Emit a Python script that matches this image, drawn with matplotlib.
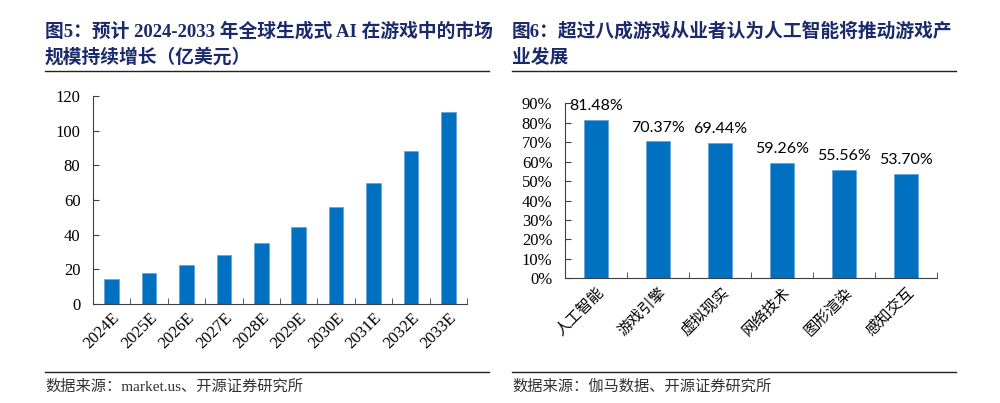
import numpy as np
import matplotlib
matplotlib.use('Agg')
import matplotlib.pyplot as plt
from matplotlib.lines import Line2D
from matplotlib.ticker import PercentFormatter, MultipleLocator

# data
years = ['2024E', '2025E', '2026E', '2027E', '2028E', '2029E', '2030E', '2031E', '2032E', '2033E']
market_size = [14.2, 17.9, 22.5, 28.3, 35.4, 44.4, 56.0, 70.0, 88.1, 110.8]

areas = ['人工智能', '游戏引擎', '虚拟现实', '网络技术', '图形渲染', '感知交互']
share = [81.48, 70.37, 69.44, 59.26, 55.56, 53.70]

title_left = '图5：预计 2024-2033 年全球生成式 AI 在游戏中的市场\n规模持续增长（亿美元）'
title_right = '图6：超过八成游戏从业者认为人工智能将推动游戏产\n业发展'
source_left = '数据来源：market.us、开源证券研究所'
source_right = '数据来源：伽马数据、开源证券研究所'

bar_color = '#0070C0'
title_color = '#1B2A6B'
serif = ['Liberation Serif', 'Noto Sans CJK SC']

plt.rcParams['font.family'] = serif

fig = plt.figure(figsize=(10, 4.03), dpi=100)


def style_axis(ax, n):
    # inward ticks at category boundaries, no tick marks at the labels
    ax.spines['top'].set_visible(False)
    ax.spines['right'].set_visible(False)
    ax.spines['left'].set_color('#404040')
    ax.spines['bottom'].set_color('#404040')
    ax.set_xlim(-0.5, n - 0.5)
    ax.set_xticks(np.arange(n))
    ax.set_xticks(np.arange(n + 1) - 0.5, minor=True)
    ax.tick_params(axis='x', which='major', length=0, pad=4)
    ax.tick_params(axis='x', which='minor', direction='in', length=4, color='#404040')
    ax.tick_params(axis='y', direction='in', length=4, pad=9, color='#404040', labelsize=12)


# left chart
ax1 = fig.add_axes([0.093, 0.2457, 0.374, 0.516])
x1 = np.arange(len(years))
ax1.bar(x1, market_size, width=0.39, color=bar_color, edgecolor='#5B9BD5', linewidth=0.4)
style_axis(ax1, len(years))
ax1.set_ylim(0, 120)
ax1.yaxis.set_major_locator(MultipleLocator(20))
ax1.set_xticklabels(years, rotation=45, ha='right', rotation_mode='anchor', fontsize=12)

# right chart
ax2 = fig.add_axes([0.565, 0.3094, 0.3717, 0.4343])
x2 = np.arange(len(areas))
ax2.bar(x2, share, width=0.39, color=bar_color, edgecolor='#5B9BD5', linewidth=0.4)
style_axis(ax2, len(areas))
ax2.set_ylim(0, 90)
ax2.yaxis.set_major_locator(MultipleLocator(10))
ax2.yaxis.set_major_formatter(PercentFormatter(decimals=0))
ax2.set_xticklabels(areas, rotation=45, ha='right', rotation_mode='anchor', fontsize=11,
                    family=['Noto Sans CJK SC'])
for xi, v in zip(x2, share):
    ax2.annotate(f'{v:.2f}%', (xi, v), xytext=(0, 5), textcoords='offset points',
                 ha='center', va='bottom', fontsize=11.5, family=['Lato', 'DejaVu Sans'])

# titles, rules and sources
for x0, x_end, title, source in [(0.045, 0.489, title_left, source_left),
                                 (0.512, 0.956, title_right, source_right)]:
    fig.text(x0, 1 - 44 / 403, title, ha='left', va='center', fontsize=13.5,
             fontweight='bold', color=title_color, linespacing=1.5)
    fig.add_artist(Line2D([x0, x_end], [1 - 71 / 403] * 2, color='#222222', lw=1.0))
    fig.add_artist(Line2D([x0, x_end], [1 - 371.7 / 403] * 2, color='#222222', lw=1.0))
    fig.text(x0, 1 - 386.7 / 403, source, ha='left', va='center', fontsize=11, color='#333333')

plt.savefig('out.png', dpi=100)
